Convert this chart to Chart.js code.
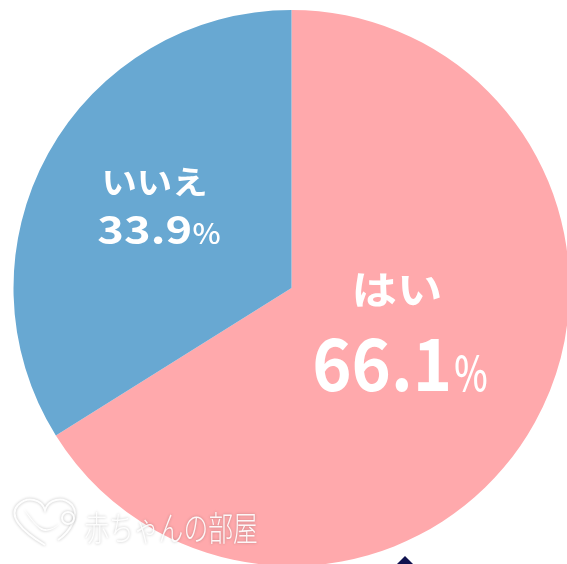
<!DOCTYPE html>
<html>
<head>
<meta charset="utf-8">
<script src="https://cdn.jsdelivr.net/npm/chart.js@4"></script>
<style>
  html, body { margin: 0; padding: 0; background: #ffffff; overflow: hidden; width: 567px; height: 564px; }
  #wrap { position: absolute; left: 0; top: 10px; width: 583px; height: 556px; }
</style>
</head>
<body>
<div id="wrap"><canvas id="c"></canvas></div>
<script>
// ---- data ----
const categories = ['はい', 'いいえ'];
const values = [66.1, 33.9];
const valueTexts = ['66.1', '33.9'];
const percentSign = '%';
const watermarkText = '赤ちゃんの部屋';

const sliceColors = ['#FFA9AC', '#68A8D2'];
const JP = '"Noto Sans CJK JP", "Noto Sans", sans-serif';

// draw text so that its ink box fills the given box
function drawInk(ctx, text, font, left, top, w, h, color) {
  ctx.save();
  ctx.font = font;
  ctx.textAlign = 'left';
  ctx.textBaseline = 'alphabetic';
  ctx.fillStyle = color;
  const m = ctx.measureText(text);
  const mw = m.actualBoundingBoxLeft + m.actualBoundingBoxRight;
  const mh = m.actualBoundingBoxAscent + m.actualBoundingBoxDescent;
  ctx.translate(left, top);
  ctx.scale(w / mw, h / mh);
  ctx.fillText(text, m.actualBoundingBoxLeft, m.actualBoundingBoxAscent);
  ctx.restore();
}

const R0 = 278;
const labelLayout = [
  { // はい
    name: { dx: 63.5, dy: -15, w: 85, h: 34 },
    num:  { dx: 23.5, dy: 50, w: 133, h: 54 },
    pct:  { dx: 163.5, dy: 67, w: 32, h: 37 }
  },
  { // いいえ
    name: { dx: -186.5, dy: -120, w: 100, h: 29 },
    num:  { dx: -193.5, dy: -72, w: 92, h: 29 },
    pct:  { dx: -98.5, dy: -65, w: 27, h: 22 }
  }
];

const labelPlugin = {
  id: 'sliceLabels',
  afterDatasetsDraw(chart) {
    const ctx = chart.ctx;
    const meta = chart.getDatasetMeta(0);
    meta.data.forEach((arc, i) => {
      const k = arc.outerRadius / R0;
      const L = labelLayout[i];
      const box = (b, text, font) => drawInk(ctx, text, font,
        arc.x + b.dx * k, arc.y + b.dy * k, b.w * k, b.h * k, '#ffffff');
      box(L.name, categories[i], '700 40px ' + JP);
      box(L.num, valueTexts[i], '700 70px ' + JP);
      box(L.pct, percentSign, '500 50px ' + JP);
    });
  },
  afterDraw(chart) {
    const ctx = chart.ctx;
    const rect = chart.canvas.getBoundingClientRect();
    ctx.save();
    ctx.translate(-rect.left, -rect.top); // page coordinates
    ctx.shadowColor = 'rgba(0,0,0,0.28)';
    ctx.shadowBlur = 3;
    ctx.strokeStyle = 'rgba(255,255,255,0.95)';
    ctx.fillStyle = 'rgba(255,255,255,0.95)';
    ctx.lineWidth = 2;
    // heart outline
    ctx.beginPath();
    ctx.moveTo(45, 545);
    ctx.bezierCurveTo(20, 530, 8, 515, 18, 505);
    ctx.bezierCurveTo(28, 495, 42, 500, 45, 510);
    ctx.bezierCurveTo(48, 500, 62, 495, 72, 505);
    ctx.bezierCurveTo(80, 515, 70, 532, 58, 540);
    ctx.stroke();
    // bird
    ctx.beginPath();
    ctx.moveTo(24, 509);
    ctx.quadraticCurveTo(30, 520, 38, 527);
    ctx.quadraticCurveTo(44, 535, 56, 527);
    ctx.lineTo(66, 517);
    ctx.lineTo(60, 523);
    ctx.quadraticCurveTo(46, 536, 34, 522);
    ctx.closePath();
    ctx.fill();
    ctx.beginPath();
    ctx.arc(68, 518, 6, 0, Math.PI * 2);
    ctx.stroke();
    drawInk(ctx, watermarkText, '300 32px ' + JP, 85, 512, 172, 33, 'rgba(255,255,255,0.92)');
    ctx.shadowBlur = 0;
    ctx.shadowColor = 'transparent';
    // small navy marker at bottom
    ctx.fillStyle = '#10124F';
    ctx.beginPath();
    ctx.moveTo(405, 556);
    ctx.lineTo(414, 565);
    ctx.lineTo(405, 574);
    ctx.lineTo(396, 565);
    ctx.closePath();
    ctx.fill();
    ctx.restore();
  }
};

new Chart(document.getElementById('c'), {
  type: 'pie',
  data: {
    labels: categories,
    datasets: [{
      data: values,
      backgroundColor: sliceColors,
      borderWidth: 0
    }]
  },
  options: {
    responsive: true,
    maintainAspectRatio: false,
    animation: false,
    layout: { padding: 0 },
    plugins: {
      legend: { display: false },
      tooltip: { enabled: false }
    }
  },
  plugins: [labelPlugin]
});
</script>
</body>
</html>
